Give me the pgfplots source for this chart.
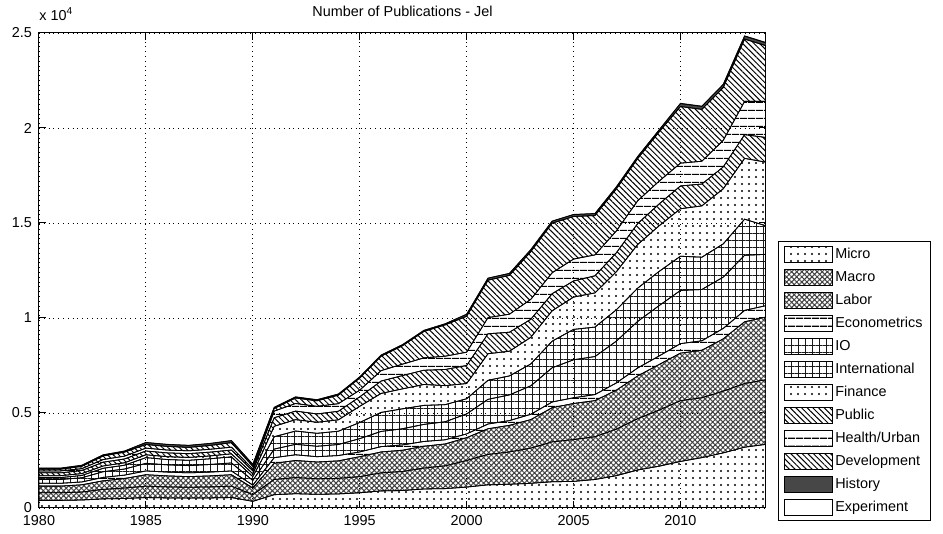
\documentclass[border=0pt]{standalone}
\usepackage{fontspec}
\setmainfont{Liberation Sans}
\usepackage{pgfplots}
\pgfplotsset{compat=1.18}
\usepackage{pgfplotstable}
\usetikzlibrary{patterns.meta}

% publications per field and year (counts)
\pgfplotstableread{
year micro macro labor econ io intl fin pub health dev hist exp
1980 400 400 350 150 200 100 100 150 100 90 50 10
1981 400 400 350 150 200 100 100 150 100 90 50 10
1982 420 420 380 150 220 120 100 160 100 120 50 10
1983 480 500 450 180 300 180 120 200 140 190 50 10
1984 500 550 500 180 320 200 130 200 150 210 50 10
1985 550 600 600 200 400 300 150 200 150 190 100 10
1986 530 580 580 200 380 280 150 200 150 190 100 10
1987 520 570 560 200 380 280 150 200 150 180 100 10
1988 530 580 580 200 400 300 150 200 150 200 100 10
1989 550 600 600 200 420 320 160 200 150 240 100 10
1990 350 350 350 150 250 200 150 150 100 140 100 10
1991 700 800 850 300 450 650 550 450 350 140 50 10
1992 750 850 900 300 550 700 600 450 400 290 50 10
1993 720 820 880 280 550 680 580 440 400 290 50 10
1994 740 820 920 280 580 700 600 450 400 450 50 10
1995 800 850 1050 250 700 850 850 500 350 640 50 10
1996 900 950 1100 280 800 1000 1000 650 550 760 50 10
1997 920 1000 1120 280 850 1050 1050 700 600 970 50 10
1998 1000 1100 1150 250 900 1000 1100 750 650 1390 50 10
1999 1020 1200 1150 220 950 900 1000 850 700 1650 50 10
2000 1100 1400 1200 200 1050 800 800 950 700 1890 100 10
2001 1220 1600 1350 250 1300 1000 1400 1050 850 1970 100 10
2002 1250 1700 1400 250 1350 1000 1300 1000 950 2040 100 10
2003 1300 1850 1500 280 1500 1150 1400 950 1050 2510 100 10
2004 1380 2100 1800 300 1800 1400 1600 900 1100 2610 100 10
2005 1400 2200 1900 300 2000 1600 1700 850 1150 2240 100 10
2006 1500 2250 1900 320 2000 1550 1800 900 1100 2070 100 10
2007 1700 2450 2050 380 2200 1650 2000 1000 1150 2210 100 10
2008 2000 2700 2250 420 2450 1750 2300 1100 1200 2220 100 10
2009 2200 2950 2400 450 2650 1800 2400 1150 1200 2590 100 10
2010 2450 3200 2500 500 2800 1800 2500 1200 1200 2980 150 20
2011 2650 3150 2500 500 2700 1700 2700 1150 1200 2730 150 20
2012 2900 3250 2750 550 2700 1750 2900 1150 1400 2780 150 20
2013 3200 3350 3250 600 2900 1900 3200 1250 1750 3280 150 20
2014 3350 3400 3300 600 2700 1500 3350 1300 1900 2930 150 20
}\data

\tikzset{
  pdots/.style={pattern={Dots[distance=3.5pt,radius=0.6pt]},pattern color=black},
  pcross/.style={pattern={Hatch[angle=45,distance=1.8pt,line width=0.5pt]},pattern color=black!75},
  phoriz/.style={pattern={Lines[angle=0,distance=4pt,line width=0.6pt]},pattern color=black},
  pgrid/.style={pattern={Hatch[angle=0,distance=3.5pt,line width=0.45pt]},pattern color=black!90},
  pdiag/.style={pattern={Lines[angle=-45,distance=2pt,line width=0.5pt]},pattern color=black},
}

\begin{document}
\begin{tikzpicture}[font=\fontsize{7.2}{8.5}\selectfont]
\useasboundingbox (-19.5pt,-13pt) rectangle (452pt,254pt);
\begin{axis}[
  at={(0,0)}, anchor=south west,
  scale only axis, width=363.5pt, height=237.5pt,
  xmin=1980, xmax=2014, ymin=0, ymax=25000,
  xtick={1980,1985,...,2010},
  ytick={0,5000,...,25000}, yticklabels={0,0.5,1,1.5,2,2.5},
  scaled y ticks=false,
  /pgf/number format/assume math mode=true,
  /pgf/number format/1000 sep={},
  grid=major, grid style={dotted, black, line width=0.45pt},
  axis line style={line width=0.5pt},
  tick style={black, line width=0.5pt}, major tick length=3.5pt,
  clip mode=individual,
  stack plots=y,
  legend image code/.code={\draw[#1] (0pt,-4pt) rectangle (24pt,4pt);},
  legend cell align=left,
  legend style={at={(1.0165,0.562)}, anchor=north west, draw=black,
    line width=0.5pt, row sep=2.5pt,
    nodes={inner sep=1pt, text height=5.5pt, text depth=1.5pt}},
]
\addplot[draw=black, line width=0.4pt, pdots] table[x=year,y=micro]{\data} \closedcycle;
\addplot[draw=black, line width=0.4pt, pcross] table[x=year,y=macro]{\data} \closedcycle;
\addplot[draw=black, line width=0.4pt, pcross] table[x=year,y=labor]{\data} \closedcycle;
\addplot[draw=black, line width=0.4pt, phoriz] table[x=year,y=econ]{\data} \closedcycle;
\addplot[draw=black, line width=0.4pt, pgrid] table[x=year,y=io]{\data} \closedcycle;
\addplot[draw=black, line width=0.4pt, pgrid] table[x=year,y=intl]{\data} \closedcycle;
\addplot[draw=black, line width=0.4pt, pdots] table[x=year,y=fin]{\data} \closedcycle;
\addplot[draw=black, line width=0.4pt, pdiag] table[x=year,y=pub]{\data} \closedcycle;
\addplot[draw=black, line width=0.4pt, phoriz] table[x=year,y=health]{\data} \closedcycle;
\addplot[draw=black, line width=0.4pt, pdiag] table[x=year,y=dev]{\data} \closedcycle;
\addplot[draw=black, line width=0.4pt, fill=black!72] table[x=year,y=hist]{\data} \closedcycle;
\addplot[draw=black, line width=0.4pt, fill=white] table[x=year,y=exp]{\data} \closedcycle;
\legend{Micro,Macro,Labor,Econometrics,IO,International,Finance,Public,Health/Urban,Development,History,Experiment}
\node[anchor=base west, inner sep=0pt] at (rel axis cs:0,1) [yshift=6pt] {x 10\textsuperscript{4}};
\node[anchor=base, inner sep=0pt] at (rel axis cs:0.5,1) [yshift=8pt] {Number of Publications - Jel};
\end{axis}
\end{tikzpicture}
\end{document}
